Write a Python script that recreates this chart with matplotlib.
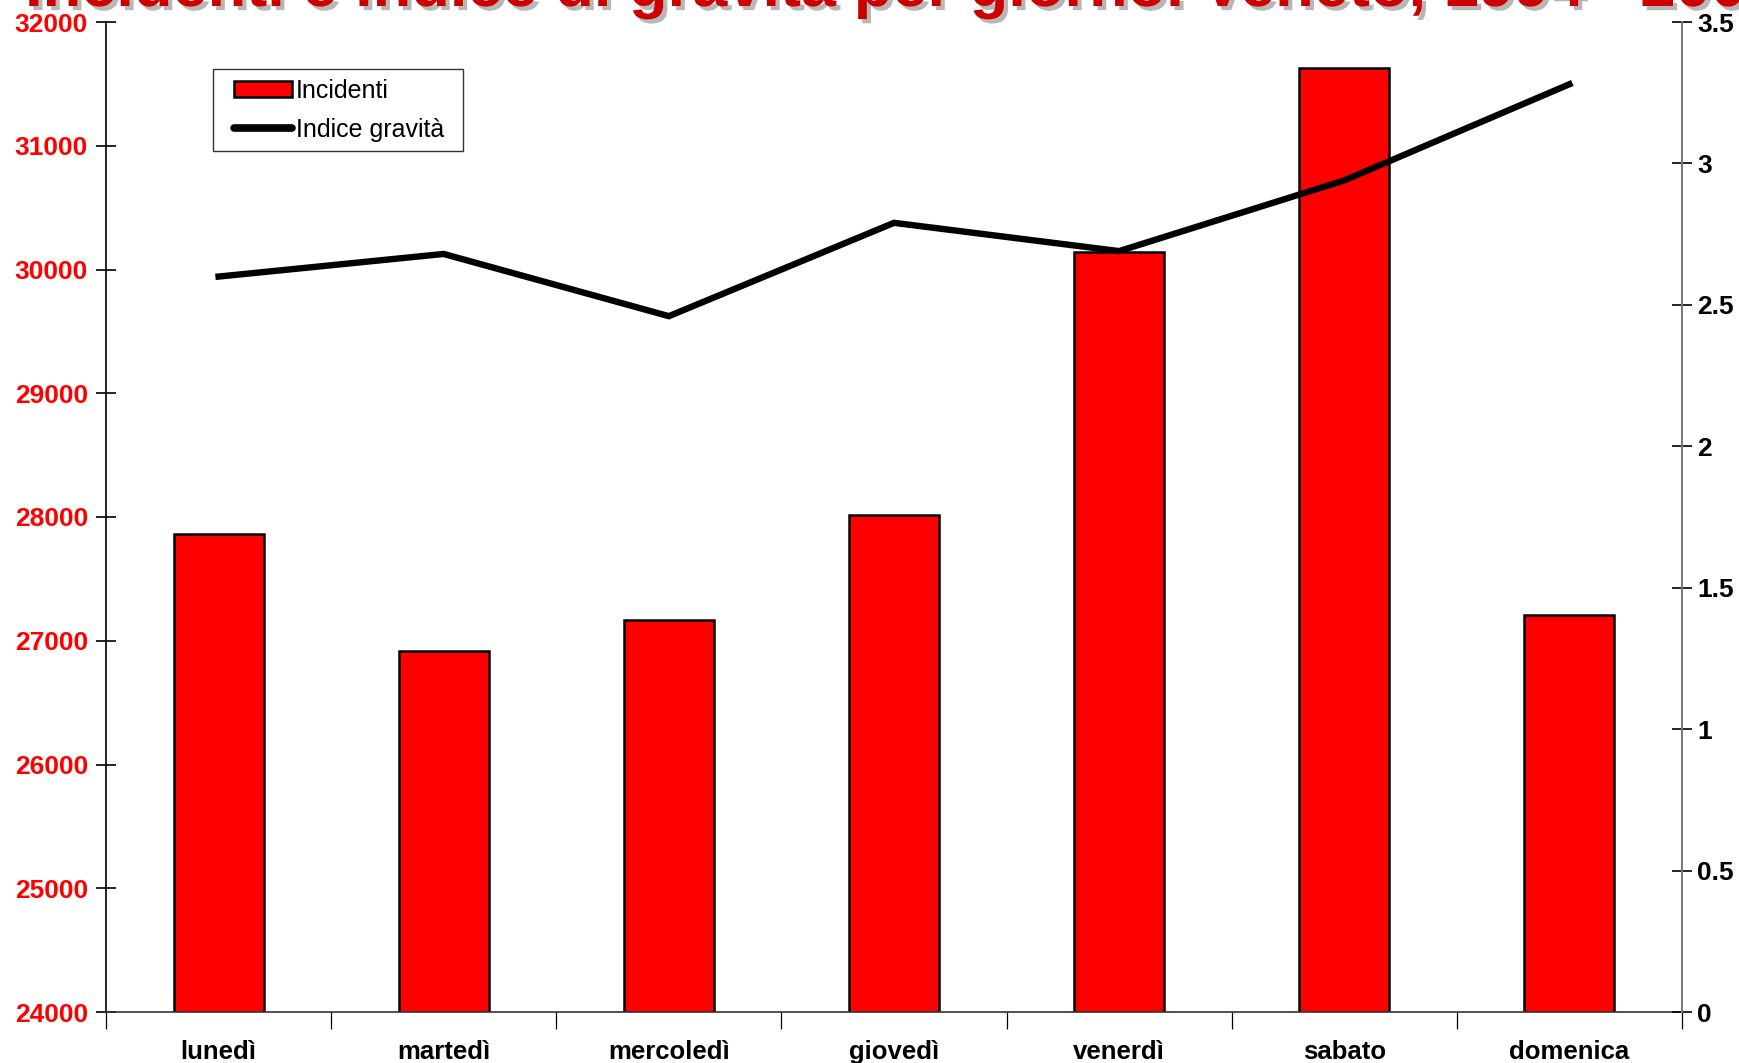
import matplotlib
matplotlib.use("Agg")
import matplotlib.pyplot as plt
import matplotlib.patheffects as pe
from matplotlib.legend_handler import HandlerPatch, HandlerLine2D
from matplotlib.patches import Rectangle
from matplotlib.lines import Line2D
import numpy as np

plt.rcParams['font.family'] = ['Liberation Sans', 'DejaVu Sans']

giorni = ["lunedì", "martedì", "mercoledì", "giovedì", "venerdì", "sabato", "domenica"]
incidenti = [27860, 26915, 27165, 28020, 30145, 31625, 27210]
indice_gravita = [2.60, 2.68, 2.46, 2.79, 2.69, 2.94, 3.28]
left_ticks = [24000, 25000, 26000, 27000, 28000, 29000, 30000, 31000, 32000]
right_ticks = [0, 0.5, 1, 1.5, 2, 2.5, 3, 3.5]
right_labels = ["0", "0.5", "1", "1.5", "2", "2.5", "3", "3.5"]
titolo = "Incidenti e indice di gravità per giorno. Veneto, 1994 - 2003"

W, H = 1740, 1063
fig = plt.figure(figsize=(W / 100, H / 100), dpi=100)
ax = fig.add_axes([106 / W, 1 - 1012 / H, (1682 - 106) / W, (1012 - 22) / H])

x = np.arange(len(giorni))
bars = ax.bar(x, incidenti, width=0.40, color="#ff0000", edgecolor="black",
              linewidth=1.8, label="Incidenti", zorder=2)
ax.set_xlim(-0.5, len(giorni) - 0.5)
ax.set_ylim(24000, 32000)
ax.set_yticks(left_ticks)
ax.set_yticklabels([str(t) for t in left_ticks], color="#ff0000",
                   fontsize=19, fontweight="bold")
ax.tick_params(axis="y", direction="inout", length=14, width=1.2, pad=6)

# category ticks sit on the boundaries between days
ax.set_xticks(x)
ax.set_xticklabels(giorni, fontsize=18.5, fontweight="bold")
ax.tick_params(axis="x", length=0, pad=20)
ax.set_xticks(np.arange(len(giorni) + 1) - 0.5, minor=True)
ax.tick_params(axis="x", which="minor", direction="out", length=12, width=0.9)

for s in ["top", "right"]:
    ax.spines[s].set_visible(False)
ax.spines["left"].set_linewidth(1.2)
ax.spines["bottom"].set_linewidth(1.2)
ax.spines["bottom"].set_color("#333333")

ax2 = ax.twinx()
line, = ax2.plot(x, indice_gravita, color="black", linewidth=4.6,
                 solid_joinstyle="miter", label="Indice gravità", zorder=3)
ax2.set_ylim(0, 3.5)
ax2.set_yticks(right_ticks)
ax2.set_yticklabels(right_labels, fontsize=19, fontweight="bold")
ax2.tick_params(axis="y", direction="inout", length=14, width=1.2, pad=4)
for s in ["top", "left", "bottom"]:
    ax2.spines[s].set_visible(False)
ax2.spines["right"].set_color("#777777")
ax2.spines["right"].set_linewidth(1.4)

leg = fig.legend([bars.patches[0], line], ["Incidenti", "Indice gravità"],
                 loc="upper left", mode="expand",
                 bbox_to_anchor=(213 / W, 1 - 148 / H, 250 / W, 79 / H),
                 fontsize=18, frameon=True, fancybox=False, edgecolor="black",
                 handlelength=2.77, handleheight=0.6, handletextpad=0.16,
                 borderpad=0.38, labelspacing=0.6, borderaxespad=0,
                 handler_map={Rectangle: HandlerPatch(xpad=0.45),
                              Line2D: HandlerLine2D(xpad=0.45)})
leg.get_frame().set_linewidth(1.0)
leg.get_lines()[0].set_linewidth(5.5)
leg.get_lines()[0].set_solid_capstyle("round")

fig.text(25 / W, 1 - 6 / H, titolo, ha="left", va="baseline",
         fontsize=45.5, fontweight="bold", color="#cc0000",
         path_effects=[pe.withSimplePatchShadow(offset=(3, -3), shadow_rgbFace="#999999", alpha=0.7)])

fig.savefig("out.png", dpi=100)
